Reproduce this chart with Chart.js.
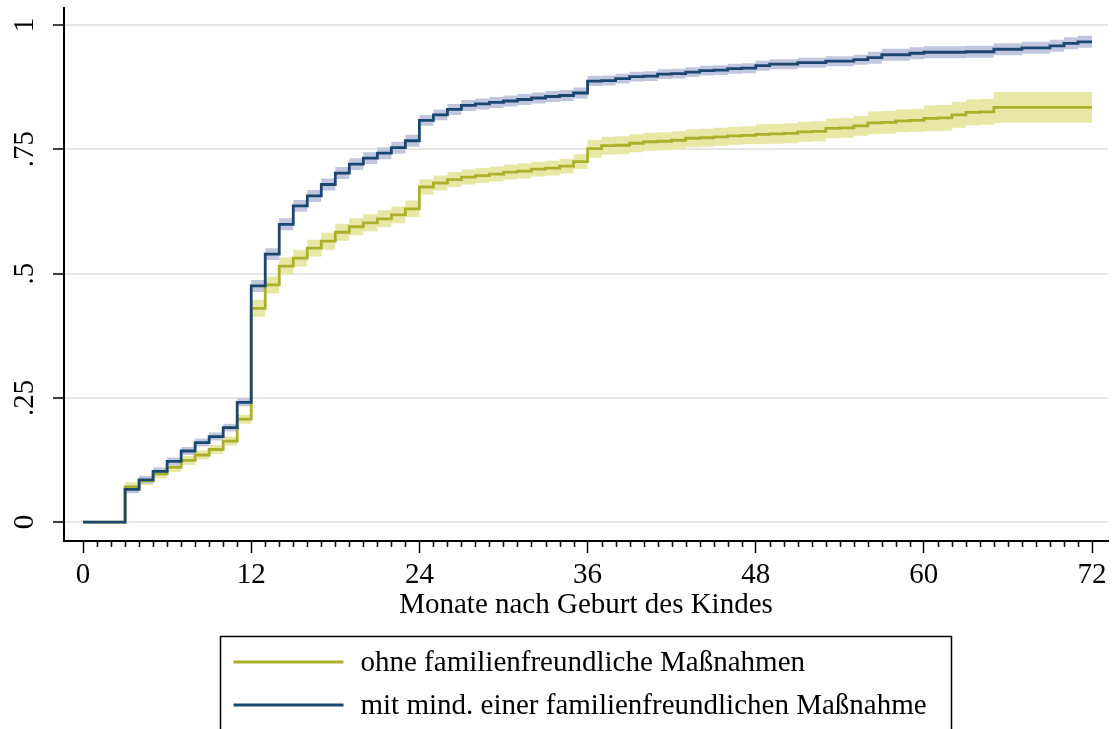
<!DOCTYPE html>
<html>
<head>
<meta charset="utf-8">
<script src="https://cdn.jsdelivr.net/npm/chart.js@4.4.1/dist/chart.umd.min.js"></script>
<style>
  html, body { margin: 0; padding: 0; background: #fff; }
  #wrap { width: 1115px; height: 729px; position: relative; }
</style>
</head>
<body>
<div id="wrap"><canvas id="c" width="1115" height="729"></canvas></div>
<script>
// Months since birth of the child (one step per month)
const months = [0,1,2,3,4,5,6,7,8,9,10,11,12,13,14,15,16,17,18,19,20,21,22,23,24,25,26,27,28,29,30,31,32,33,34,35,36,
  37,38,39,40,41,42,43,44,45,46,47,48,49,50,51,52,53,54,55,56,57,58,59,60,61,62,63,64,65,66,67,68,69,70,71,72];

// Cumulative share: without family-friendly measures
const ohne = [0,0,0,0.071,0.083,0.097,0.110,0.124,0.135,0.146,0.163,0.207,
  0.430,0.477,0.515,0.531,0.551,0.565,0.583,0.594,0.602,0.610,0.618,0.630,
  0.674,0.682,0.689,0.694,0.697,0.700,0.704,0.706,0.710,0.712,0.716,0.725,
  0.751,0.757,0.758,0.762,0.765,0.766,0.768,0.772,0.773,0.775,0.777,0.778,
  0.780,0.781,0.782,0.785,0.786,0.792,0.793,0.797,0.803,0.804,0.807,0.808,
  0.812,0.813,0.819,0.824,0.825,0.834,0.834,0.834,0.834,0.834,0.834,0.834,0.834];
const ohneLo = [0,0,0,0.062,0.074,0.088,0.101,0.115,0.126,0.137,0.154,0.198,
  0.413,0.460,0.498,0.514,0.534,0.548,0.566,0.577,0.585,0.593,0.601,0.613,
  0.659,0.667,0.674,0.679,0.682,0.685,0.689,0.691,0.695,0.697,0.701,0.710,
  0.733,0.739,0.740,0.744,0.747,0.748,0.750,0.754,0.755,0.757,0.759,0.760,
  0.760,0.761,0.762,0.765,0.766,0.772,0.773,0.777,0.780,0.781,0.784,0.785,
  0.786,0.787,0.793,0.798,0.799,0.803,0.803,0.803,0.803,0.803,0.803,0.803,0.803];
const ohneHi = [0,0,0,0.080,0.092,0.106,0.119,0.133,0.144,0.155,0.172,0.216,
  0.447,0.494,0.532,0.548,0.568,0.582,0.600,0.611,0.619,0.627,0.635,0.647,
  0.689,0.697,0.704,0.709,0.712,0.715,0.719,0.721,0.725,0.727,0.731,0.740,
  0.769,0.775,0.776,0.780,0.783,0.784,0.786,0.790,0.791,0.793,0.795,0.796,
  0.800,0.801,0.802,0.805,0.806,0.812,0.813,0.817,0.826,0.827,0.830,0.831,
  0.838,0.839,0.845,0.850,0.851,0.865,0.865,0.865,0.865,0.865,0.865,0.865,0.865];

// Cumulative share: with at least one family-friendly measure
const mit = [0,0,0,0.066,0.085,0.102,0.122,0.143,0.160,0.172,0.190,0.241,
  0.475,0.539,0.599,0.636,0.656,0.679,0.702,0.720,0.732,0.742,0.753,0.767,
  0.808,0.819,0.830,0.838,0.841,0.844,0.847,0.850,0.853,0.856,0.858,0.863,
  0.887,0.888,0.892,0.896,0.897,0.901,0.902,0.905,0.908,0.909,0.912,0.913,
  0.918,0.921,0.921,0.924,0.924,0.927,0.927,0.930,0.934,0.940,0.940,0.943,
  0.945,0.945,0.945,0.946,0.946,0.951,0.951,0.954,0.954,0.958,0.963,0.966,0.966];
const mitLo = [0,0,0,0.058,0.077,0.094,0.114,0.135,0.152,0.164,0.182,0.233,
  0.463,0.527,0.587,0.624,0.644,0.667,0.690,0.708,0.720,0.730,0.741,0.755,
  0.797,0.808,0.819,0.827,0.830,0.833,0.836,0.839,0.842,0.845,0.847,0.852,
  0.877,0.878,0.882,0.886,0.887,0.891,0.892,0.895,0.898,0.899,0.902,0.903,
  0.908,0.911,0.911,0.914,0.914,0.917,0.917,0.920,0.922,0.928,0.928,0.931,
  0.933,0.933,0.933,0.934,0.934,0.939,0.939,0.942,0.942,0.946,0.951,0.954,0.954];
const mitHi = [0,0,0,0.074,0.093,0.110,0.130,0.151,0.168,0.180,0.198,0.249,
  0.487,0.551,0.611,0.648,0.668,0.691,0.714,0.732,0.744,0.754,0.765,0.779,
  0.819,0.830,0.841,0.849,0.852,0.855,0.858,0.861,0.864,0.867,0.869,0.874,
  0.897,0.898,0.902,0.906,0.907,0.911,0.912,0.915,0.918,0.919,0.922,0.923,
  0.928,0.931,0.931,0.934,0.934,0.937,0.937,0.940,0.946,0.952,0.952,0.955,
  0.957,0.957,0.957,0.958,0.958,0.963,0.963,0.966,0.966,0.970,0.975,0.978,0.978];

// Axis ticks and labels
const xTicks = [0, 12, 24, 36, 48, 60, 72];
const yTicks = [0, 0.25, 0.5, 0.75, 1];
const yTickLabels = ['0', '.25', '.5', '.75', '1'];
const xTitle = 'Monate nach Geburt des Kindes';
const legendLabels = ['ohne familienfreundliche Maßnahmen', 'mit mind. einer familienfreundlichen Maßnahme'];

const OLIVE = '#abb02a', OLIVE_CI = '#e7e8a6';
const NAVY = '#1a476f', NAVY_CI = '#c1c6de';
const SERIF = "'Liberation Serif', 'Times New Roman', serif";
const FONT_SIZE = 29;

const pts = arr => months.map((m, i) => ({ x: m, y: arr[i] }));

function lineSet(label, arr, color, order) {
  return { label, data: pts(arr), borderColor: color, borderWidth: 2.8, stepped: 'before',
           pointRadius: 0, fill: false, order };
}
function bandSet(label, arr, color, order, fill) {
  return { label, data: pts(arr), borderWidth: 0, borderColor: 'rgba(0,0,0,0)', backgroundColor: color,
           stepped: 'before', pointRadius: 0, fill, order };
}

// Minor month ticks along the time axis
const minorTicks = {
  id: 'minorTicks',
  afterDraw(chart) {
    const sx = chart.scales.x, ctx = chart.ctx;
    ctx.save();
    ctx.strokeStyle = '#000';
    ctx.lineWidth = 1.5;
    months.forEach(m => {
      if (xTicks.includes(m)) return;
      const px = Math.round(sx.getPixelForValue(m)) + 0.5;
      ctx.beginPath();
      ctx.moveTo(px, sx.top);
      ctx.lineTo(px, sx.top + 6);
      ctx.stroke();
    });
    ctx.restore();
  }
};

// Boxed two-row legend below the axis
const boxLegend = {
  id: 'boxLegend',
  afterDraw(chart) {
    const ctx = chart.ctx, ca = chart.chartArea;
    const cx = (ca.left + ca.right) / 2;
    const left = Math.round(cx - 366) + 0.5, right = Math.round(cx + 365) + 0.5, top = 636.5;
    ctx.save();
    ctx.strokeStyle = '#000';
    ctx.lineWidth = 1.5;
    ctx.strokeRect(left, top, right - left, 200);
    const colors = [OLIVE, NAVY];
    const rows = [662, 705];
    ctx.font = FONT_SIZE + 'px ' + SERIF;
    ctx.textBaseline = 'middle';
    ctx.textAlign = 'left';
    legendLabels.forEach((lab, i) => {
      ctx.strokeStyle = colors[i];
      ctx.lineWidth = 2.8;
      ctx.beginPath();
      ctx.moveTo(left + 13, rows[i]);
      ctx.lineTo(left + 123, rows[i]);
      ctx.stroke();
      ctx.fillStyle = '#000';
      ctx.fillText(lab, left + 140, rows[i] + 1);
    });
    ctx.restore();
  }
};

new Chart(document.getElementById('c'), {
  type: 'line',
  data: {
    datasets: [
      lineSet(legendLabels[0], ohne, OLIVE, 1),
      lineSet(legendLabels[1], mit, NAVY, 0),
      bandSet('ohne CI hi', ohneHi, OLIVE_CI, 3, '+1'),
      bandSet('ohne CI lo', ohneLo, OLIVE_CI, 3, false),
      bandSet('mit CI hi', mitHi, NAVY_CI, 2, '+1'),
      bandSet('mit CI lo', mitLo, NAVY_CI, 2, false)
    ]
  },
  options: {
    responsive: false,
    animation: false,
    layout: { padding: { left: 0, top: 8, right: 7, bottom: 106 } },
    plugins: { legend: { display: false }, tooltip: { enabled: false } },
    scales: {
      x: {
        type: 'linear',
        min: -1.36,
        max: 73.14,
        afterBuildTicks: s => { s.ticks = xTicks.map(v => ({ value: v })); },
        afterFit: s => { s.height = 82; s.paddingLeft = 0; s.paddingRight = 0; },
        border: { display: true, color: '#000', width: 2 },
        grid: { drawOnChartArea: false, drawTicks: true, tickLength: 12, tickColor: '#000', tickWidth: 1.5 },
        ticks: { color: '#000', font: { family: SERIF, size: FONT_SIZE }, padding: 5, maxRotation: 0, minRotation: 0,
                 callback: v => String(v) },
        title: { display: true, text: xTitle, color: '#000', font: { family: SERIF, size: FONT_SIZE },
                 padding: { top: 0, bottom: 0 } }
      },
      y: {
        type: 'linear',
        min: -0.038,
        max: 1.034,
        afterBuildTicks: s => { s.ticks = yTicks.map(v => ({ value: v })); },
        afterFit: s => { s.width = 64; s.paddingTop = 0; s.paddingBottom = 0; },
        border: { display: true, color: '#000', width: 2 },
        grid: { color: '#e6e6e6', lineWidth: 2, drawTicks: true, tickLength: 11, tickColor: '#000', tickWidth: 1.5 },
        ticks: { color: '#000', font: { family: SERIF, size: FONT_SIZE }, padding: 9, minRotation: 90, maxRotation: 90,
                 crossAlign: 'center',
                 callback: v => yTickLabels[yTicks.indexOf(v)] }
      }
    }
  },
  plugins: [minorTicks, boxLegend]
});
</script>
</body>
</html>
